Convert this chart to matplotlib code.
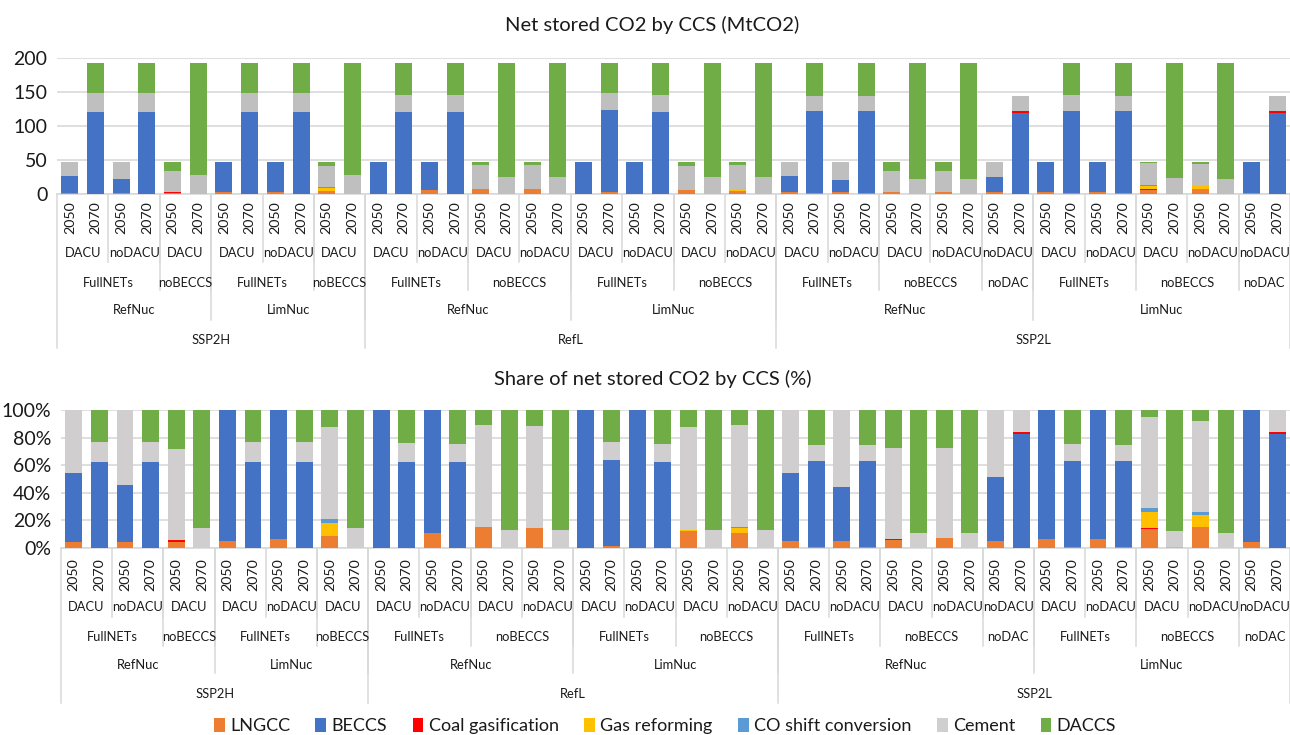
import matplotlib
matplotlib.use("Agg")
import matplotlib.pyplot as plt
import numpy as np
from matplotlib.transforms import blended_transform_factory
from matplotlib.patches import Patch

plt.rcParams["font.family"] = ["Lato", "DejaVu Sans"]

# ---------------------------------------------------------------- data
# Net stored CO2 by CCS technology (MtCO2), 48 scenario/year bars
# order: SSP2H (12 bars) | RefL (16 bars) | SSP2L (20 bars)
years = ["2050", "2070"] * 24

dac_labels = (["DACU", "noDACU", "DACU", "DACU", "noDACU", "DACU"]
              + ["DACU", "noDACU"] * 4
              + ["DACU", "noDACU", "DACU", "noDACU", "noDACU"] * 2)
net_labels = [("FullNETs", 4), ("noBECCS", 2), ("FullNETs", 4), ("noBECCS", 2),
              ("FullNETs", 4), ("noBECCS", 4), ("FullNETs", 4), ("noBECCS", 4),
              ("FullNETs", 4), ("noBECCS", 4), ("noDAC", 2),
              ("FullNETs", 4), ("noBECCS", 4), ("noDAC", 2)]
nuc_labels = [("RefNuc", 6), ("LimNuc", 6), ("RefNuc", 8), ("LimNuc", 8),
              ("RefNuc", 10), ("LimNuc", 10)]
ssp_labels = [("SSP2H", 12), ("RefL", 16), ("SSP2L", 20)]

lngcc = [2.2, 0, 2.2, 0, 2.1, 0, 2.3, 0, 3.1, 0, 4.2, 0,
         0, 0, 5.2, 0, 7.2, 0, 6.8, 0, 0, 2.9, 0, 0, 6.0, 0, 5.0, 0,
         2.3, 1.4, 2.3, 1.4, 2.8, 0, 3.5, 0, 2.3, 0,
         3.1, 1.4, 3.0, 1.4, 6.4, 0, 7.1, 0, 2.2, 0]
beccs = [23.7, 120.5, 19.4, 120.5, 0, 0, 45.2, 120.5, 44.4, 120.5, 0, 0,
         47.5, 120, 42.3, 120, 0, 0, 0, 0, 47.5, 120, 47.5, 120, 0, 0, 0, 0,
         23.6, 120, 18.7, 120, 0, 0, 0, 0, 22.0, 119.8,
         44.4, 120, 44.5, 120, 0, 0, 0, 0, 45.3, 119.8]
coal_gas = [0, 0, 0, 0, 0.8, 0, 0, 0, 0, 0, 0, 0,
            0, 0, 0, 0, 0, 0, 0, 0, 0, 0, 0, 0, 0, 0, 0, 0,
            0, 0, 0, 0, 0.35, 0, 0, 0, 0, 2.1,
            0, 0, 0, 0, 0.35, 0, 0, 0, 0, 2.1]
gas_reform = [0, 0, 0, 0, 0, 0, 0, 0, 0, 0, 4.5, 0,
              0, 0, 0, 0, 0, 0, 0, 0, 0, 0, 0, 0, 0.35, 0, 2.0, 0,
              0, 0, 0, 0, 0, 0, 0, 0, 0, 0,
              0, 0, 0, 0, 5.5, 1.0, 4.2, 0, 0, 0]
co_shift = [0, 0, 0, 0, 0, 0, 0, 0, 0, 0, 1.4, 0,
            0, 0, 0, 0, 0, 0, 0, 0, 0, 0, 0, 0, 0, 0, 0.35, 0,
            0, 0, 0, 0, 0, 0, 0, 0, 0, 0,
            0, 0, 0, 0, 1.6, 0, 1.2, 0, 0, 0]
cement = [21.6, 27.8, 25.9, 27.8, 31.3, 27.3, 0, 27.8, 0, 27.8, 31.4, 27.3,
          0, 26.0, 0, 25.4, 35.1, 24.5, 35.2, 24.5, 0, 25.4, 0, 25.4, 35.1, 24.5, 35.2, 24.5,
          21.6, 22.6, 26.5, 22.6, 31.2, 21.6, 31.0, 21.6, 23.2, 22.6,
          0, 23.5, 0, 22.6, 31.2, 22.1, 31.2, 21.6, 0, 22.6]
daccs = [0, 44.2, 0, 44.2, 13.3, 165.2, 0, 44.2, 0, 44.2, 6.0, 165.2,
         0, 46.6, 0, 47.1, 5.2, 168.0, 5.5, 168.0, 0, 44.3, 0, 47.1, 6.0, 168.0, 5.0, 168.0,
         0, 48.5, 0, 48.5, 13.1, 170.9, 13.0, 170.9, 0, 0,
         0, 47.5, 0, 48.5, 2.4, 169.4, 3.8, 170.9, 0, 0]

tech_names = ["LNGCC", "BECCS", "Coal gasification", "Gas reforming",
              "CO shift conversion", "Cement", "DACCS"]
tech_values = [lngcc, beccs, coal_gas, gas_reform, co_shift, cement, daccs]

# ---------------------------------------------------------------- style
colors_top = ["#ED7D31", "#4472C4", "#FF0000", "#FFC000", "#5B9BD5", "#BFBFBF", "#70AD47"]
colors_bot = ["#ED7D31", "#4472C4", "#FF0000", "#FFC000", "#5B9BD5", "#D0CECE", "#70AD47"]
grid_c = "#D9D9D9"
text_c = "#1A1A1A"
cat_size = 9.3

W, H = 1290, 735
fig = plt.figure(figsize=(W / 100, H / 100), dpi=100)


def fy(p):
    return 1 - p / H


n_bars = len(years)
x = np.arange(n_bars)
vals = np.array(tech_values, dtype=float)
totals = vals.sum(axis=0)
shares = vals / totals * 100


def draw_bars(ax, data, colors):
    bottom = np.zeros(n_bars)
    for row, c in zip(data, colors):
        ax.bar(x, row, bottom=bottom, width=0.66, color=c, linewidth=0, zorder=3)
        bottom += row
    ax.set_xlim(-0.5, n_bars - 0.5)
    ax.set_xticks([])
    for s in ["top", "right", "left"]:
        ax.spines[s].set_visible(False)
    ax.spines["bottom"].set_color(grid_c)
    ax.spines["bottom"].set_linewidth(1.2)
    ax.yaxis.grid(True, color=grid_c, linewidth=1.2, zorder=0)
    ax.tick_params(axis="y", length=0, labelsize=14, labelcolor=text_c, pad=7)


def draw_categories(ax, axis_px, rows_px, line_ends):
    tr = blended_transform_factory(ax.transData, fig.transFigure)
    for i, yr in enumerate(years):
        ax.text(i, fy(rows_px[0]), yr, transform=tr, rotation=90, ha="center",
                va="center", fontsize=10.3, color=text_c, clip_on=False)
    levels = [[(lab, 2) for lab in dac_labels], net_labels, nuc_labels, ssp_labels]
    for k, spans in enumerate(levels):
        pos = 0
        for lab, n in spans:
            ax.text(pos + (n - 1) / 2, fy(rows_px[k + 1]), lab, transform=tr,
                    ha="center", va="center", fontsize=cat_size, color=text_c,
                    clip_on=False)
            if pos > 0:
                ax.plot([pos - 0.5, pos - 0.5], [fy(axis_px), fy(line_ends[k])],
                        transform=tr, color=grid_c, lw=1.1, clip_on=False)
            pos += n
    for edge in (-0.5, n_bars - 0.5):
        ax.plot([edge, edge], [fy(axis_px), fy(line_ends[-1])], transform=tr,
                color=grid_c, lw=1.1, clip_on=False)


# upper panel: absolute amounts
ax1 = fig.add_axes([57 / W, fy(194), (W - 57) / W, 136 / H])
draw_bars(ax1, vals, colors_top)
ax1.set_ylim(0, 200)
ax1.set_yticks([0, 50, 100, 150, 200])
draw_categories(ax1, 194, [218, 253, 283, 310, 340], [262, 290, 320, 348])
fig.text(652 / W, fy(25), "Net stored CO2 by CCS (MtCO2)", ha="center", va="center",
         fontsize=14.5, color=text_c)

# lower panel: shares
ax2 = fig.add_axes([61 / W, fy(548), (W - 61) / W, 138 / H])
draw_bars(ax2, shares, colors_bot)
ax2.set_ylim(0, 100)
ax2.set_yticks([0, 20, 40, 60, 80, 100])
ax2.set_yticklabels([f"{t}%" for t in range(0, 101, 20)])
draw_categories(ax2, 548, [575, 607, 637, 665, 694], [617, 646, 673, 703])
fig.text(653 / W, fy(379), "Share of net stored CO2 by CCS (%)", ha="center", va="center",
         fontsize=14.5, color=text_c)

handles = [Patch(facecolor=c, edgecolor="none") for c in colors_bot]
fig.legend(handles, tech_names, loc="center", bbox_to_anchor=(665 / W, fy(726)),
           ncol=7, frameon=False, fontsize=13, handlelength=0.6, handleheight=0.8,
           handletextpad=0.3, columnspacing=1.4, labelcolor=text_c)

fig.savefig("out.png", dpi=100)
